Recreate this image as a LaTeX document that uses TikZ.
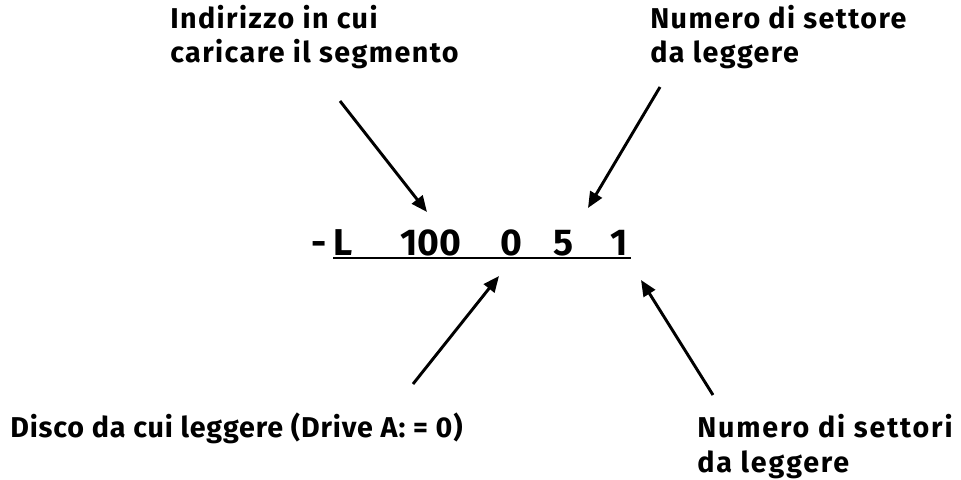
\documentclass[tikz,border=0pt]{standalone}
\usepackage{fontspec}
\setmainfont{Fira Sans}
\newfontfamily\capfont{Fira Sans}[LetterSpace=5]
\newfontfamily\drivefont{Fira Sans}[LetterSpace=3]
\newfontfamily\countfont{Fira Sans}[LetterSpace=6.5]
\usetikzlibrary{arrows.meta}

\begin{document}
\begin{tikzpicture}[x=0.75pt,y=-0.75pt,
  caption/.style={anchor=base west,inner sep=0pt,font=\fontsize{21.5}{26}\capfont\bfseries},
  token/.style={anchor=base west,inner sep=0pt,font=\fontsize{28}{32}\selectfont\bfseries},
  pointer/.style={line width=2.2pt,-{Triangle[length=12pt,width=10pt]}}]
\useasboundingbox (0,0) rectangle (961,479);
% descrizioni
\node[caption] (addrA) at (170,28) {Indirizzo in cui};
\node[caption] (addrB) at (170,62) {caricare il segmento};
\node[caption] (sectA) at (650,28) {Numero di settore};
\node[caption] (sectB) at (650,62) {da leggere};
\node[caption,font=\fontsize{21.5}{26}\drivefont\bfseries] (drive) at (10,437) {Disco da cui leggere (Drive A: = 0)};
\node[caption,font=\fontsize{21.5}{26}\countfont\bfseries] (countA) at (697,437) {Numero di settori};
\node[caption,font=\fontsize{21.5}{26}\countfont\bfseries] (countB) at (697,472) {da leggere};
% comando
\node[token] (cmddash) at (311,255) {-};
\node[token] (cmdL) at (333,255) {L};
\node[token] (cmdaddr) at (400,255) {100};
\node[token] (cmddrive) at (500,255) {0};
\node[token] (cmdsect) at (553,255) {5};
\node[token] (cmdcount) at (610,255) {1};
\draw[line width=1.5pt] ([yshift=-2.5pt]cmdL.base west) -- ([yshift=-2.5pt,xshift=2pt]cmdcount.base east);
% frecce
\coordinate (tipaddr) at (427,212);
\coordinate (tipsect) at (588,208);
\coordinate (tipdrive) at (499,276);
\coordinate (tipcount) at (641,280);
\draw[pointer] (340,101) -- (tipaddr);
\draw[pointer] (660,87) -- (tipsect);
\draw[pointer] (413,384) -- (tipdrive);
\draw[pointer] (713,395) -- (tipcount);
\end{tikzpicture}
\end{document}
